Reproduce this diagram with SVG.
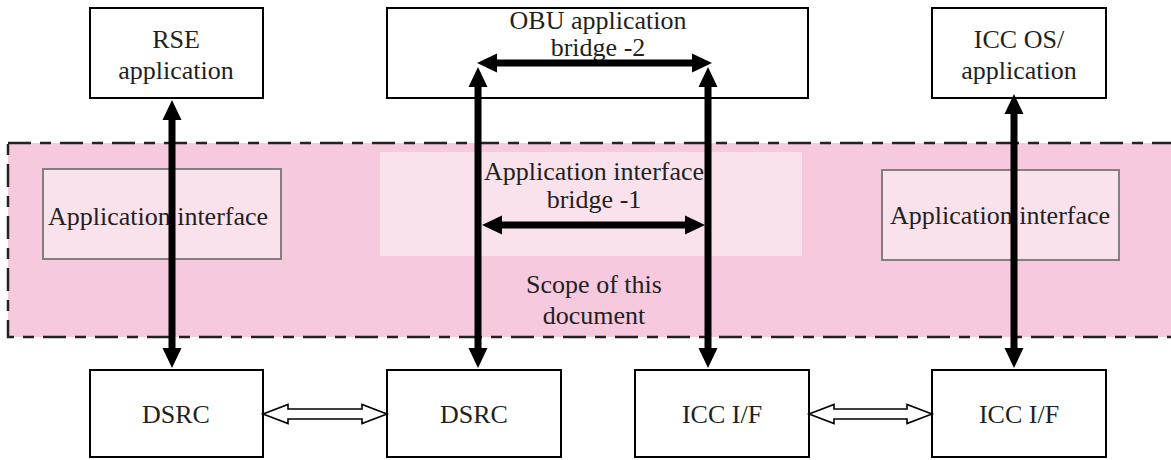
<svg xmlns="http://www.w3.org/2000/svg" width="1171" height="460" viewBox="0 0 1171 460">
<defs>
<style>
.box{fill:#fff;stroke:#000;stroke-width:2}
.ai{fill:#fae2ed;stroke:#808080;stroke-width:2}
.t{font-family:"Liberation Serif","Times New Roman",serif;font-size:26px;fill:#231f20;text-anchor:middle}
.sh{stroke:#000;stroke-width:7;fill:none}
.hol{fill:#fff;stroke:#000;stroke-width:1.6;stroke-linejoin:miter}
</style>
<marker id="ah" markerUnits="userSpaceOnUse" markerWidth="20" markerHeight="20" viewBox="0 0 20 20" refX="2" refY="10" orient="auto-start-reverse">
<path d="M0,0.5 L20,10 L0,19.5 z" fill="#000"/>
</marker>
</defs>
<rect width="1171" height="460" fill="#fff"/>
<g id="scope">
<rect x="8" y="143" width="1180" height="194" fill="#f7c9df" stroke="#222" stroke-width="2.5" stroke-dasharray="23 9 11 9"/>
<rect x="380" y="152" width="422" height="104" fill="#fae2ed"/>
<text class="t" x="594" y="293">Scope of this</text>
<text class="t" x="594" y="324">document</text>
</g>
<g id="rse-app">
<rect class="box" x="90" y="8" width="173" height="90"/>
<text class="t" x="176" y="48">RSE</text>
<text class="t" x="176" y="79">application</text>
</g>
<g id="obu-app">
<rect class="box" x="387" y="8" width="421" height="90"/>
<text class="t" x="598" y="29">OBU application</text>
<text class="t" x="598" y="56">bridge -2</text>
</g>
<g id="icc-app">
<rect class="box" x="932" y="8" width="174" height="90"/>
<text class="t" x="1019" y="48">ICC OS/</text>
<text class="t" x="1019" y="79">application</text>
</g>
<g id="ai-left">
<rect class="ai" x="43" y="169" width="238" height="90"/>
<text class="t" x="158" y="225">Application interface</text>
</g>
<g id="ai-bridge">
<text class="t" x="594" y="180">Application interface</text>
<text class="t" x="594" y="208">bridge -1</text>
</g>
<g id="ai-right">
<rect class="ai" x="882" y="170" width="237" height="90"/>
<text class="t" x="1000" y="224">Application interface</text>
</g>
<g id="dsrc-1">
<rect class="box" x="90" y="370" width="173" height="87"/>
<text class="t" x="176" y="423">DSRC</text>
</g>
<g id="dsrc-2">
<rect class="box" x="387" y="370" width="174" height="87"/>
<text class="t" x="474" y="423">DSRC</text>
</g>
<g id="icc-if-1">
<rect class="box" x="635" y="370" width="174" height="87"/>
<text class="t" x="722" y="423">ICC I/F</text>
</g>
<g id="icc-if-2">
<rect class="box" x="932" y="370" width="174" height="87"/>
<text class="t" x="1019" y="423">ICC I/F</text>
</g>
<g id="connectors">
<line class="sh" x1="172" y1="118" x2="172" y2="350" marker-start="url(#ah)" marker-end="url(#ah)"/>
<line class="sh" x1="478" y1="85" x2="478" y2="350" marker-start="url(#ah)" marker-end="url(#ah)"/>
<line class="sh" x1="708" y1="85" x2="708" y2="350" marker-start="url(#ah)" marker-end="url(#ah)"/>
<line class="sh" x1="1014" y1="112" x2="1014" y2="350" marker-start="url(#ah)" marker-end="url(#ah)"/>
<line class="sh" x1="495" y1="63" x2="694" y2="63" marker-start="url(#ah)" marker-end="url(#ah)"/>
<line class="sh" x1="500" y1="225" x2="687" y2="225" marker-start="url(#ah)" marker-end="url(#ah)"/>
<polygon class="hol" points="263,414 288,404.5 288,409 362,409 362,404.5 387,414 362,423.5 362,419 288,419 288,423.5"/>
<polygon class="hol" points="809,414 834,404.5 834,409 907,409 907,404.5 932,414 907,423.5 907,419 834,419 834,423.5"/>
</g>
</svg>
